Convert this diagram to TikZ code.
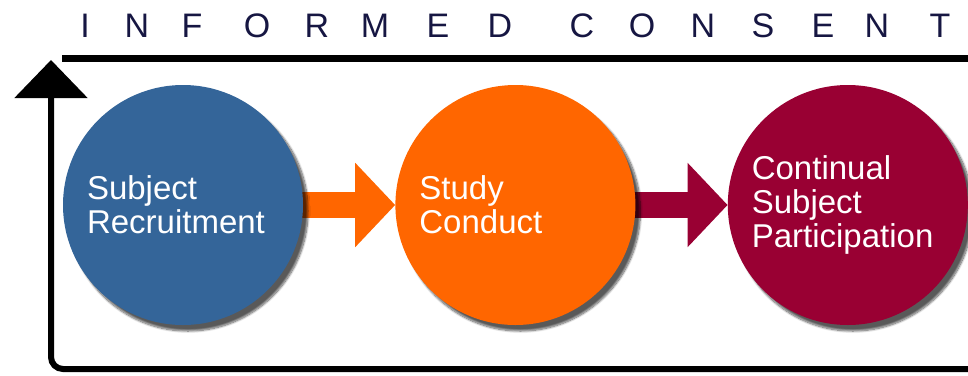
\documentclass[tikz,border=0pt]{standalone}
\usepackage{fontspec}
\setmainfont{Liberation Sans}
\usepackage{xcolor}
\usepackage{tikz}
\usetikzlibrary{calc}
\usetikzlibrary{positioning}
\usetikzlibrary{arrows.meta}
\usetikzlibrary{backgrounds}
\usetikzlibrary{shadows.blur}

\definecolor{recblue}{RGB}{52,101,153}
\definecolor{condorange}{RGB}{255,102,0}
\definecolor{partred}{RGB}{153,0,51}
\definecolor{titlenavy}{RGB}{22,22,66}

\begin{document}
\begin{tikzpicture}[
    x = 1pt,
    y = -1pt,
    font = \fontsize{33}{34}\selectfont,
    node distance = 92pt,
    stagef/.style = {
      circle,
      minimum size=240pt,
      inner sep=0pt,
      text width=192pt,
      align=left,
      text=white,
      blur shadow={shadow xshift=5pt, shadow yshift=-6pt,
        shadow blur steps=10, shadow opacity=65}
    },
    titlef/.style = {
      anchor=base,
      inner sep=0pt,
      text=titlenavy,
      font=\fontsize{34}{34}\selectfont
    },
    flowf/.style = {
      line width=26pt,
      -{Triangle[length=40pt, width=82pt]}
    },
    rulef/.style = {
      line width=7pt
    },
    loopf/.style = {
      line width=6pt,
      rounded corners=12pt,
      -{Triangle[length=38pt, width=72pt]}
    }
  ]
    \useasboundingbox (0,0) rectangle (968,375);

    % heading, one letter at a time
    \foreach \ch/\px [count=\i] in {I/85,N/137,F/192,O/257,R/317,M/375,E/438,D/500,
        C/582,O/642,N/703,S/763,E/823,N/877,T/940}
      \node[titlef] (ttl\i) at (\px,37) {\ch};

    \node[stagef, fill=recblue] (rec) at (183,205) {Subject\\Recruitment};
    \node[stagef, fill=condorange, right=of rec] (cond) {Study\\Conduct};
    \node[stagef, fill=partred, right=of cond] (part) {Continual\\Subject\\Participation};

    \begin{scope}[on background layer]
      \draw[flowf, draw=condorange] (rec.center) -- (cond.west);
      \draw[flowf, draw=partred] (cond.center) -- (part.west);
    \end{scope}

    \coordinate (rulel) at (62,58);
    \coordinate (ruler) at (968,58);
    \draw[rulef] (rulel) -- (ruler);

    \coordinate (loopin) at (968,369);
    \coordinate (looptip) at (51,60);
    \draw[loopf] (loopin) -| (looptip);

  \end{tikzpicture}
\end{document}
